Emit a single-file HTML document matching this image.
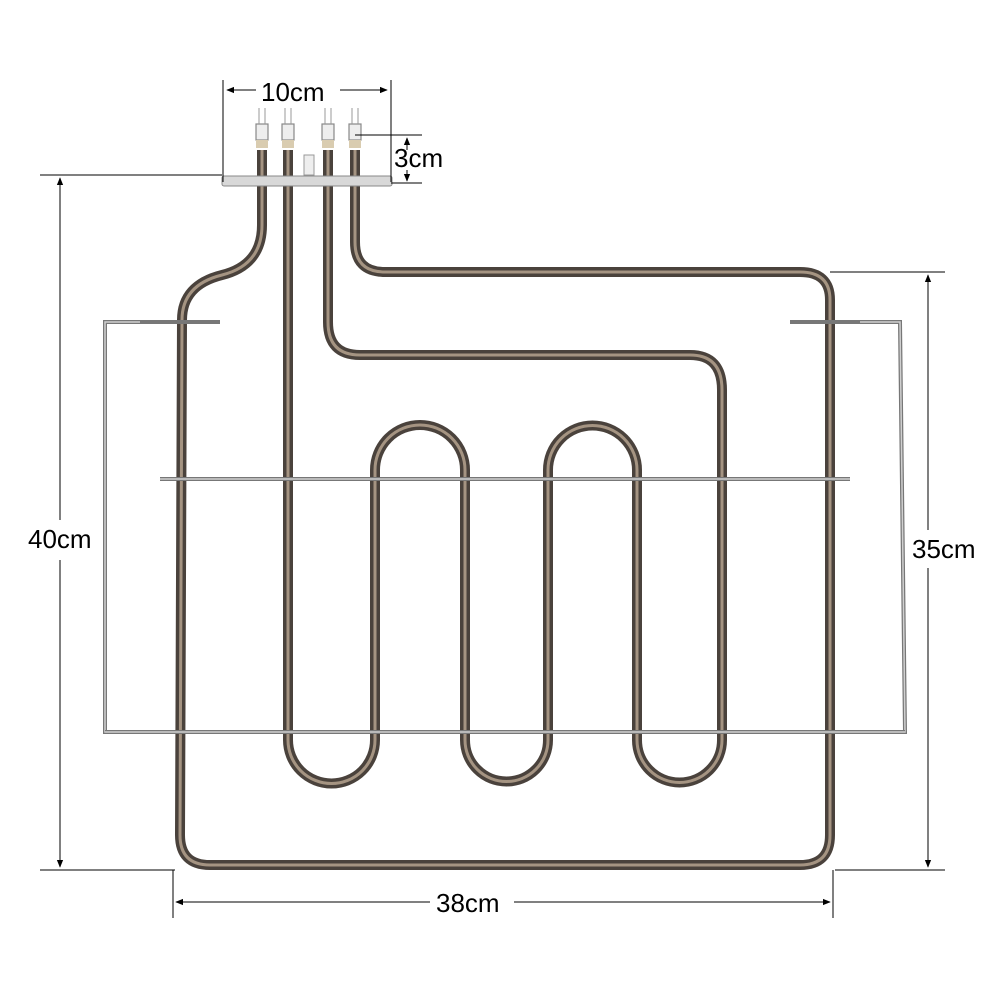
<!DOCTYPE html>
<html><head><style>body{margin:0;background:#fff}svg{display:block}</style></head><body>
<svg width="1000" height="1000" viewBox="0 0 1000 1000" xmlns="http://www.w3.org/2000/svg" font-family="Liberation Sans, sans-serif">
<defs>
<marker id="a" viewBox="0 0 10 10" refX="9" refY="5" markerWidth="8" markerHeight="8" orient="auto-start-reverse"><path d="M0,1 L10,5 L0,9 z" fill="#000"/></marker>
</defs>
<g fill="none" stroke="#777" stroke-width="4">
<path d="M220,322 L105,322 L105,732 L905,732 L900,322 L790,322"/>
<path d="M160,479 L850,479"/>
</g>
<g fill="none" stroke="#d0d0d0" stroke-width="1.5">
<path d="M220,322 L105,322 L105,732 L905,732 L900,322 L790,322"/>
<path d="M160,479 L850,479"/>
</g>
<g fill="none" stroke-linejoin="round">
<g stroke="#4a423c" stroke-width="10">
<path d="M262,150 L262,225 Q262,265 222,275 Q182,285 182,320 L180,835 Q180,865 210,865 L800,865 Q830,865 830,835 L830,300 Q830,272 800,272 L385,272 Q355,272 355,242 L355,150"/>
<path d="M288,150 L288,740 A43,43 0 0 0 375,740 L375,470 A45,45 0 0 1 465,470 L465,740 A41.5,41.5 0 0 0 548,740 L548,470 A44.5,44.5 0 0 1 637,470 L637,740 A42.5,42.5 0 0 0 722,740 L722,390 Q722,355 690,355 L360,355 Q328,355 328,322 L328,150"/>
</g>
<g stroke="#a59482" stroke-width="3">
<path d="M262,150 L262,225 Q262,265 222,275 Q182,285 182,320 L180,835 Q180,865 210,865 L800,865 Q830,865 830,835 L830,300 Q830,272 800,272 L385,272 Q355,272 355,242 L355,150"/>
<path d="M288,150 L288,740 A43,43 0 0 0 375,740 L375,470 A45,45 0 0 1 465,470 L465,740 A41.5,41.5 0 0 0 548,740 L548,470 A44.5,44.5 0 0 1 637,470 L637,740 A42.5,42.5 0 0 0 722,740 L722,390 Q722,355 690,355 L360,355 Q328,355 328,322 L328,150"/>
</g>
</g>
<g stroke="#777" stroke-width="4"><path d="M105,732 L905,732"/><path d="M160,479 L850,479"/><path d="M140,322 L220,322"/><path d="M790,322 L860,322"/></g>
<g stroke="#d0d0d0" stroke-width="1.5"><path d="M105,732 L905,732"/><path d="M160,479 L850,479"/></g>
<g stroke="#888" stroke-width="1.2" fill="#eee">
<rect x="256" y="124" width="12" height="16"/><rect x="282" y="124" width="12" height="16"/><rect x="322" y="124" width="12" height="16"/><rect x="349" y="124" width="12" height="16"/>
</g>
<g stroke="#999" stroke-width="1"><path d="M259,108V124M265,108V124M285,108V124M291,108V124M325,108V124M331,108V124M352,108V124M358,108V124"/></g>
<g fill="#d9ccb0"><rect x="256" y="140" width="12" height="8"/><rect x="282" y="140" width="12" height="8"/><rect x="322" y="140" width="12" height="8"/><rect x="349" y="140" width="12" height="8"/></g>
<rect x="304" y="155" width="10" height="20" fill="#eee" stroke="#999"/>
<rect x="222" y="176" width="170" height="10" rx="2" fill="#d8d8d8" stroke="#888"/>
<g stroke="#000" stroke-width="1" fill="none">
<path d="M223,80V182M391,80V182"/>
<path d="M256,90H227" marker-end="url(#a)"/><path d="M340,90H387" marker-end="url(#a)"/>
<path d="M355,135H422M391,183H422"/>
<path d="M407,150V138" marker-end="url(#a)"/><path d="M407,170V181" marker-end="url(#a)"/>
<path d="M40,175H222M40,870H175"/>
<path d="M60,520V178" marker-end="url(#a)"/><path d="M60,560V867" marker-end="url(#a)"/>
<path d="M830,272H945M835,870H945"/>
<path d="M928,530V275" marker-end="url(#a)"/><path d="M928,568V867" marker-end="url(#a)"/>
<path d="M173,870V918M833,870V918"/>
<path d="M430,902H176" marker-end="url(#a)"/><path d="M514,902H830" marker-end="url(#a)"/>
</g>
<g font-size="26" fill="#000">
<text x="261" y="101">10cm</text>
<text x="394" y="167">3cm</text>
<text x="28" y="548">40cm</text>
<text x="912" y="558">35cm</text>
<text x="436" y="912">38cm</text>
</g>
</svg>
</body></html>
